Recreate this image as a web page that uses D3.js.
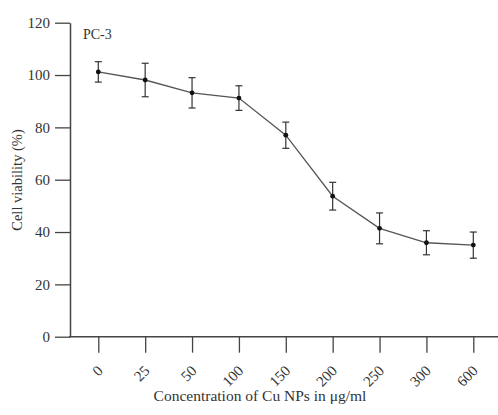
<!DOCTYPE html>
<html><head><meta charset="utf-8">
<script src="https://cdn.jsdelivr.net/npm/d3@7"></script>
<style>
body{margin:0;background:#fff;}
text{font-family:"Liberation Serif","Times New Roman",serif;fill:#333;}
</style></head>
<body><svg id="c" width="498" height="415"></svg>
<script>
const categories = ["0","25","50","100","150","200","250","300","600"];
const viability = [101.2, 98.1, 93.2, 91.2, 77.0, 53.7, 41.4, 35.9, 35.0];
const errors = [3.9, 6.4, 5.8, 4.7, 5.0, 5.3, 5.9, 4.6, 5.0];
const yTicks = [0,20,40,60,80,100,120];

const svg = d3.select("#c");
const x0 = 70, yTop = 22.7, yBot = 336.7, xEnd = 498;
const x = d3.scalePoint().domain(categories).range([98.3, 473.3]);
const y = d3.scaleLinear().domain([0,120]).range([yBot, yTop]);
const axisColor = "#444";

// y axis
const ya = svg.append("g").attr("transform",`translate(${x0},0)`)
  .call(d3.axisLeft(y).tickValues(yTicks).tickSize(15).tickPadding(5).tickSizeOuter(0));
ya.select(".domain").attr("stroke",axisColor).attr("stroke-width",1.5);
ya.selectAll(".tick line").attr("stroke",axisColor).attr("stroke-width",1.3);
ya.selectAll(".tick text").attr("font-size",15).attr("font-family","Liberation Serif").attr("fill","#333");

// x axis
svg.append("line").attr("x1",x0-1).attr("x2",xEnd).attr("y1",yBot).attr("y2",yBot)
  .attr("stroke",axisColor).attr("stroke-width",1.5);
const xa = svg.append("g").attr("transform",`translate(0,${yBot})`)
  .call(d3.axisBottom(x).tickSize(16).tickSizeOuter(0));
xa.select(".domain").remove();
xa.selectAll(".tick line").attr("stroke",axisColor).attr("stroke-width",1.3);
xa.selectAll(".tick text").attr("font-size",15).attr("font-family","Liberation Serif").attr("fill","#333")
  .attr("text-anchor","end").attr("dy",null).attr("y",0)
  .attr("transform","translate(5,35) rotate(-45)");

// line
const pts = categories.map((c,i)=>({c, v:viability[i], e:errors[i]}));
svg.append("path").datum(pts)
  .attr("d", d3.line().x(d=>x(d.c)).y(d=>y(d.v)))
  .attr("fill","none").attr("stroke","#555").attr("stroke-width",1.3);

// error bars
const eb = svg.append("g").selectAll("g").data(pts).join("g");
eb.append("line").attr("x1",d=>x(d.c)).attr("x2",d=>x(d.c))
  .attr("y1",d=>y(d.v+d.e)).attr("y2",d=>y(d.v-d.e)).attr("stroke","#333").attr("stroke-width",1.2);
eb.append("line").attr("x1",d=>x(d.c)-3.5).attr("x2",d=>x(d.c)+3.5)
  .attr("y1",d=>y(d.v+d.e)).attr("y2",d=>y(d.v+d.e)).attr("stroke","#333").attr("stroke-width",1.2);
eb.append("line").attr("x1",d=>x(d.c)-3.5).attr("x2",d=>x(d.c)+3.5)
  .attr("y1",d=>y(d.v-d.e)).attr("y2",d=>y(d.v-d.e)).attr("stroke","#333").attr("stroke-width",1.2);
eb.append("circle").attr("cx",d=>x(d.c)).attr("cy",d=>y(d.v)).attr("r",2.4).attr("fill","#111");

// labels
svg.append("text").attr("x",83).attr("y",39).attr("font-size",14).text("PC-3");
svg.append("text").attr("transform","translate(22,180) rotate(-90)").attr("text-anchor","middle")
  .attr("font-size",14.5).text("Cell viability (%)");
svg.append("text").attr("x",260).attr("y",401).attr("text-anchor","middle")
  .attr("font-size",15.5).text("Concentration of Cu NPs in μg/ml");
</script></body></html>
